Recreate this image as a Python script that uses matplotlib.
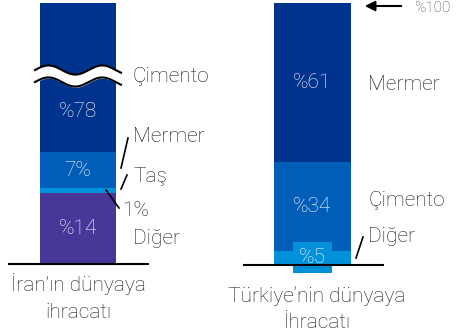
import numpy as np
import matplotlib.pyplot as plt

plt.rcParams['font.family'] = ['Roboto', 'DejaVu Sans']

# Iran: bottom to top
iran_labels = ["Diğer", "Taş", "Mermer", "Çimento"]
iran_values = [14, 1, 7, 78]
iran_texts = ["%14", "", "7%", "%78"]

# Turkey: bottom to top
tr_labels = ["Diğer", "Çimento", "Mermer"]
tr_values = [5, 34, 61]
tr_texts = ["%5", "%34", "%61"]

DARK = "#00338d"
MID = "#005eb8"
LIGHT = "#0091da"
PURPLE = "#483698"
iran_colors = [PURPLE, LIGHT, MID, DARK]
tr_colors = [LIGHT, MID, DARK]

W, H = 458, 336
fig = plt.figure(figsize=(W / 100, H / 100), dpi=100)
fs = 15
light = dict(fontweight="light", color="#1a1a1a", fontsize=fs)


def px(x, y):
    return x / W, 1 - y / H


def fig_text(x, y, s, **kw):
    opts = dict(light)
    opts.update(kw)
    fig.text(*px(x, y), s, va="center", **opts)


def fig_line(x0, y0, x1, y1, lw=1.2):
    a, b = px(x0, y0), px(x1, y1)
    fig.add_artist(plt.Line2D([a[0], b[0]], [a[1], b[1]], color="black", lw=lw))


# left axis: stacked bar cut off at the top (broken scale)
ax1 = fig.add_axes([9 / W, 72 / H, 139 / W, 261 / H])
ax1.set_xlim(9, 148)
ax1.set_ylim(0, 261 / 5.07)
bottom = 0
for v, c, t in zip(iran_values, iran_colors, iran_texts):
    ax1.bar(78, v, bottom=bottom, width=76, color=c, clip_on=True)
    if t:
        yc = bottom + v / 2 if v < 50 else bottom + 8
        ax1.text(78, yc, t, ha="center", va="center", color="white",
                 fontsize=fs, fontweight="light")
    bottom += v
ax1.axis("off")

# wavy break across the tall segment
xs = np.linspace(35, 121, 200)
wave = 0.9 * np.sin((xs - 35) / 86 * 3.2 * np.pi)
y_top = (264 - 70) / 5.07 + wave
y_bot = (264 - 82) / 5.07 + wave
ax1.fill_between(xs, y_bot, y_top, color="white", zorder=3, clip_on=False)
ax1.plot(xs, y_top, color="black", lw=1.5, zorder=4, clip_on=False)
ax1.plot(xs, y_bot, color="black", lw=1.5, zorder=4, clip_on=False)

# right axis
ax2 = fig.add_axes([244 / W, 72 / H, 139 / W, 261 / H])
ax2.set_xlim(244, 383)
ax2.set_ylim(0, 100)
bottom = 0
for v, c, t in zip(tr_values, tr_colors, tr_texts):
    ax2.bar(312.5, v, bottom=bottom, width=77, color=c)
    box = dict(facecolor=LIGHT, edgecolor="none", pad=4) if v < 10 else None
    ax2.text(312.5, bottom + v / 2, t, ha="center", va="center", color="white",
             fontsize=fs, fontweight="light", bbox=box, zorder=5)
    bottom += v
ax2.axis("off")

# baselines
fig_line(9, 264, 148, 264, lw=1.5)
fig_line(244, 265, 383, 265, lw=1.5)

# left labels
fig_text(133, 77, "Çimento")
fig_text(133, 137, "Mermer")
fig_text(133, 176, "Taş")
fig_text(122, 211, "1%")
fig_text(133, 238, "Diğer")
fig_line(121, 168, 128, 138)
fig_line(121, 189, 127, 175)
fig_line(106, 190, 119, 208)
fig_text(78, 284, "İran’ın dünyaya", ha="center")
fig_text(78, 312, "ihracatı", ha="center")

# right labels
fig_text(368, 84, "Mermer")
fig_text(368, 200, "Çimento")
fig_text(368, 237, "Diğer")
fig_line(356, 258, 363, 237)
fig_text(317, 296, "Türkiye‘nin dünyaya", ha="center")
fig_text(317, 322, "İhracatı", ha="center")

# 100% marker at the top
a, b = px(404, 6), px(362, 6)
fig.add_artist(plt.Annotation("", xy=b, xytext=a, xycoords="figure fraction",
                              arrowprops=dict(arrowstyle="-|>", color="black",
                                              lw=1.5, mutation_scale=15)))
fig_text(414, 8, "%100", fontsize=11, color="#444444")

fig.savefig("out.png", dpi=100)
